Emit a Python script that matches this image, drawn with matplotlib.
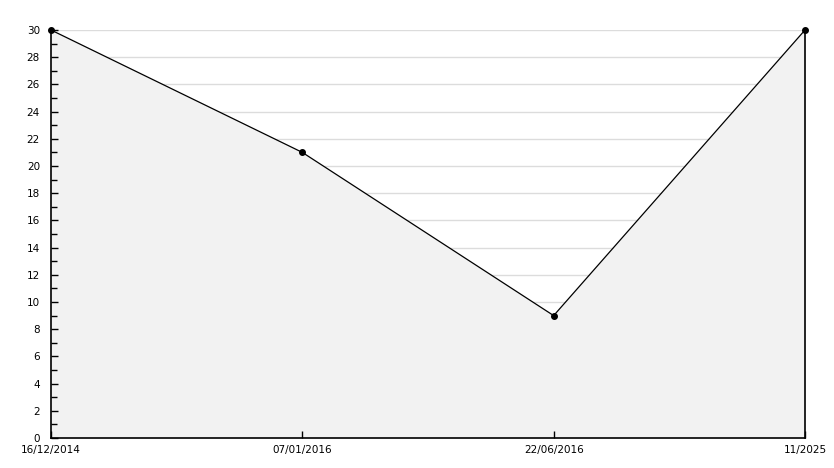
import matplotlib
matplotlib.use("Agg")
import matplotlib.pyplot as plt
from matplotlib.ticker import MultipleLocator

dates = ["16/12/2014", "07/01/2016", "22/06/2016", "11/2025"]
values = [30, 21, 9, 30]

fig = plt.figure(figsize=(8.34, 4.68), dpi=100)
ax = fig.add_axes([51 / 834, 30 / 468, 754 / 834, 408 / 468])

x = list(range(len(dates)))
ax.fill_between(x, values, 0, color="#f2f2f2", linewidth=0, zorder=1)
ax.plot(x, values, color="black", linewidth=0.9, marker="o", markersize=4,
        zorder=3, clip_on=False)

ax.set_xlim(0, len(dates) - 1)
ax.set_ylim(0, 30)
ax.set_xticks(x)
ax.set_xticklabels(dates)
ax.yaxis.set_major_locator(MultipleLocator(2))
ax.yaxis.set_minor_locator(MultipleLocator(1))

# grid behind the fill, ticks stay on top
for yv in ax.get_yticks():
    if 0 < yv <= 30:
        ax.axhline(yv, color="#dcdcdc", linewidth=1, zorder=0.5)

ax.tick_params(axis="y", which="major", direction="in", length=5, width=1, labelsize=7.5, pad=8)
ax.tick_params(axis="y", which="minor", direction="in", length=4, width=1)
ax.tick_params(axis="x", direction="in", length=5, width=1, labelsize=7.5, pad=5)

for s in ["left", "bottom", "right"]:
    ax.spines[s].set_color("black")
    ax.spines[s].set_linewidth(1.2)
ax.spines["top"].set_visible(False)

fig.savefig("out.png", dpi=100)
